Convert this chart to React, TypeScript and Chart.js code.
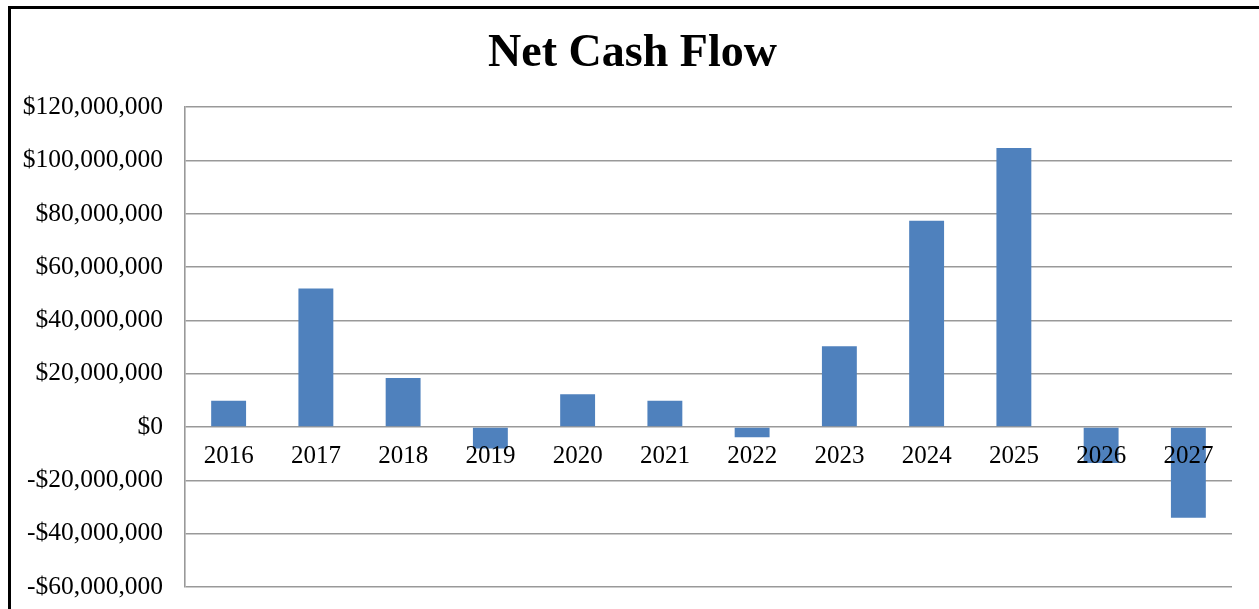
import React, { useEffect, useRef } from "react";
import { Chart, registerables } from "chart.js";

Chart.register(...registerables);

const categories: string[] = ["2016", "2017", "2018", "2019", "2020", "2021", "2022", "2023", "2024", "2025", "2026", "2027"];
const netCashFlow: number[] = [9.9e6, 52.0e6, 18.4e6, -8.0e6, 12.3e6, 9.9e6, -3.8e6, 30.3e6, 77.4e6, 104.7e6, -13.5e6, -34.0e6];
const yMin = -60000000;
const yMax = 120000000;
const yStep = 20000000;

const serif = "'Liberation Serif', 'Times New Roman', serif";

function fmtMoney(v: number): string {
  const abs = Math.abs(v).toLocaleString("en-US");
  return (v < 0 ? "-$" : "$") + abs;
}

export default function App() {
  const ref = useRef<HTMLCanvasElement | null>(null);

  useEffect(() => {
    if (!ref.current) return;
    const chart = new Chart(ref.current, {
      type: "bar",
      data: {
        labels: categories,
        datasets: [
          {
            label: "Net Cash Flow",
            data: netCashFlow,
            backgroundColor: "#4F81BD",
            borderWidth: 0,
            categoryPercentage: 1,
            barPercentage: 0.4,
            yAxisID: "y",
          },
        ],
      },
      options: {
        animation: false,
        responsive: false,
        layout: { padding: { left: 6, right: 0, top: 0, bottom: 22 } },
        plugins: {
          legend: { display: false },
          tooltip: { enabled: false },
          title: {
            display: true,
            text: "Net Cash Flow",
            color: "#000",
            font: { family: serif, size: 46, weight: "bold", lineHeight: 1.2 },
            padding: { top: 27, bottom: 25 },
          },
        },
        scales: {
          x: {
            position: { y: 0 } as any,
            grid: { display: false, drawTicks: false },
            border: { display: false },
            ticks: {
              z: 1,
              color: "#000",
              font: { family: serif, size: 25, lineHeight: 1.2 },
              padding: 14,
              maxRotation: 0,
            } as any,
          },
          y: {
            position: "left",
            min: yMin,
            max: yMax,
            grid: { color: "#999999", lineWidth: 1.6, drawTicks: true, tickLength: 22, tickColor: "rgba(0,0,0,0)" },
            border: { display: true, color: "#999999", width: 1.6 },
            ticks: {
              stepSize: yStep,
              color: "#000",
              font: { family: serif, size: 25.5, lineHeight: 1.2 },
              padding: 0,
              callback: (v: any) => fmtMoney(Number(v)),
            },
            afterFit: (scale: any) => {
              scale.width = 179;
            },
          },
          yRight: {
            position: "right",
            display: true,
            grid: { display: false, drawTicks: false },
            border: { display: false },
            ticks: { display: false },
            afterFit: (scale: any) => {
              scale.width = 27;
            },
          },
        },
      },
    });
    return () => chart.destroy();
  }, []);

  return (
    <div style={{ position: "absolute", left: 0, top: 0, width: 1259, height: 609, overflow: "hidden", background: "#fff" }}>
      <div
        style={{
          position: "absolute",
          left: 8,
          top: 6,
          width: 1400,
          height: 800,
          border: "3px solid #000",
        }}
      />
      <canvas ref={ref} width={1259} height={609} style={{ position: "absolute", left: 0, top: 0 }} />
    </div>
  );
}
